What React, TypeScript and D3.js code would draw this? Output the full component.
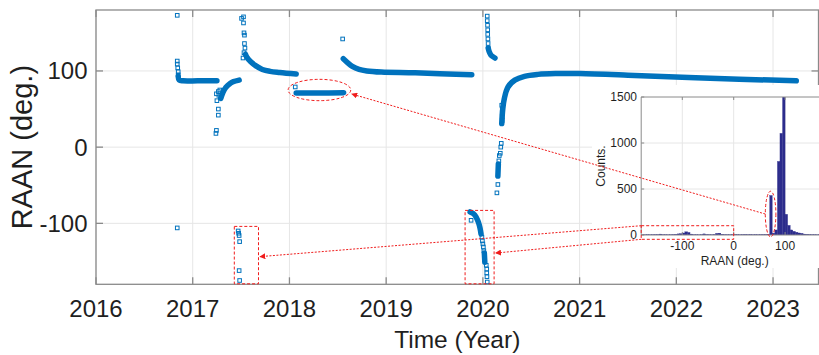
import React from 'react';
import * as d3 from 'd3';

type P = [number, number];

// ---- axis ticks ----
const xTicks = [2016, 2017, 2018, 2019, 2020, 2021, 2022, 2023];
const yTicks = [-100, 0, 100];
const insetXTicks = [-100, 0, 100];
const insetYTicks = [0, 500, 1000, 1500];

// ---- sparse RAAN samples (open squares) [year, deg] ----
const sparse2016: P[] = [[2016.84, 173], [2016.84, 113], [2016.84, 109], [2016.845, 104], [2016.85, 99], [2016.85, 95], [2016.84, -106]];
const sparse2017a: P[] = [[2017.24, 18], [2017.245, 22], [2017.265, 42], [2017.265, 50], [2017.25, 61], [2017.245, 70], [2017.265, 73], [2017.28, 75], [2017.27, 68], [2017.29, 66]];
const sparse2017b: P[] = [[2017.505, 169], [2017.525, 171], [2017.525, 163], [2017.53, 150], [2017.535, 147], [2017.535, 136], [2017.54, 130], [2017.52, 117], [2017.53, 124]];
const sparse2017c: P[] = [[2017.47, -110], [2017.475, -113], [2017.48, -116], [2017.485, -124], [2017.48, -162], [2017.485, -175]];
const sparse2018: P[] = [[2018.06, 79], [2018.55, 142]];
const sparse2020top: P[] = [[2020.045, 172], [2020.045, 166], [2020.048, 160], [2020.05, 154], [2020.05, 148], [2020.052, 142], [2020.054, 136], [2020.056, 130]];
const sparse2020mid: P[] = [[2020.2, 35], [2020.2, 40], [2020.2, 45], [2020.2, 50], [2020.195, 55], [2020.19, 5], [2020.185, 0], [2020.18, -8], [2020.17, -11], [2020.165, -18], [2020.155, -49], [2020.145, -60]];
const sparse2020low: P[] = [[2019.878, -96], [2019.99, -118], [2019.995, -123], [2020.0, -127], [2020.005, -131], [2020.01, -136], [2020.035, -155], [2020.04, -160], [2020.04, -165], [2020.042, -170], [2020.045, -177]];

// ---- dense RAAN tracks [year, deg] ----
const trackA: P[] = [[2016.85, 93], [2016.86, 88], [2016.9, 87], [2017.05, 87], [2017.25, 87]];
const trackB: P[] = [[2017.29, 64], [2017.31, 71], [2017.34, 78], [2017.38, 83], [2017.42, 86], [2017.48, 88]];
const trackC: P[] = [[2017.545, 122], [2017.56, 118], [2017.6, 112], [2017.65, 107], [2017.72, 102], [2017.8, 99.5], [2017.9, 98], [2018.07, 96]];
const trackD: P[] = [[2018.07, 71], [2018.3, 71], [2018.56, 71.5]];
const trackE: P[] = [[2018.557, 116], [2018.6, 111], [2018.65, 106], [2018.72, 102], [2018.8, 100], [2018.95, 98.5], [2019.3, 97.5], [2019.885, 95]];
const trackF: P[] = [[2020.055, 130], [2020.07, 124], [2020.09, 120], [2020.125, 117]];
const trackG: P[] = [[2020.195, 31], [2020.205, 49], [2020.222, 64], [2020.26, 79], [2020.33, 88], [2020.43, 93], [2020.57, 95.5], [2020.75, 96.5], [2021.0, 96.5], [2021.5, 94.5], [2022.2, 91], [2023.24, 87]];
const trackH: P[] = [[2020.16, -22], [2020.155, -38]];
const trackI: P[] = [[2019.868, -85], [2019.9, -87], [2019.935, -93], [2019.955, -99], [2019.97, -106], [2019.981, -114]];
const trackJ: P[] = [[2020.015, -139], [2020.02, -151]];

// ---- histogram (inset): bin lower edges (5 deg) and counts ----
const histBinStart = d3.range(-180, 180, 5);
const histCounts = [
  2, 2, 3, 2, 3, 4, 5, 10, 4, 3, 2, 3, 5, 8, 12, 15, 22, 35, 28, 10, 4, 3, 2, 4,
  12, 6, 4, 3, 6, 18, 20, 8, 4, 3, 3, 5, 6, 4, 3, 4, 6, 4, 5, 3, 4, 3, 4, 5,
  6, 8, 430, 20, 55, 800, 1105, 1600, 225, 105, 55, 40, 30, 22, 18, 10, 8, 5, 4, 3,
  2, 2, 2, 2,
];

const FONT = 'Liberation Sans, Arial, Helvetica, sans-serif';
const TXT = '#1f1f1f';
const BLUE = '#0072BD';
const RED = '#f01c1c';
const AXC = '#8a8a8a';
const GRID = '#e6e6e6';

export default function App() {
  const x = d3.scaleLinear().domain([2016, 2023.47]).range([96, 818.5]);
  const y = d3.scaleLinear().domain([-180, 180]).range([284.3, 10]);
  const ix = d3.scaleLinear().domain([-180, 180]).range([641.2, 826.2]);
  const iy = d3.scaleLinear().domain([0, 1500]).range([235, 97]);

  const [L, R] = x.range();
  const [B, T] = y.range();
  const iL = ix.range()[0];
  const iR = 819;
  const [iB, iT] = iy.range();

  const line = d3.line<P>().x(d => x(d[0])).y(d => y(d[1])).curve(d3.curveMonotoneY);
  const lineX = d3.line<P>().x(d => x(d[0])).y(d => y(d[1])).curve(d3.curveCatmullRom);
  const tracks = [trackA, trackB, trackC, trackD, trackE, trackF, trackG, trackH, trackI, trackJ];
  const sparse = [...sparse2016, ...sparse2017a, ...sparse2017b, ...sparse2017c, ...sparse2018, ...sparse2020top, ...sparse2020mid, ...sparse2020low];
  const sq = 3.6;

  // annotations (data units)
  const ell2018 = { cx: 2018.31, cy: 75, rx: 0.324, ry: 14 };
  const box2017 = { x0: 2017.43, x1: 2017.68, y0: -104, y1: -180 };
  const box2020 = { x0: 2019.816, x1: 2020.116, y0: -83, y1: -180 };
  const insetEll = { cx: 71.8, cy: 228, rx: 10.3, ry: 248 };
  const insetBox = { x0: -180, x1: 0, y0: 101, y1: -47 };

  const ellPx = { cx: x(ell2018.cx), cy: y(ell2018.cy), rx: x(ell2018.cx + ell2018.rx) - x(ell2018.cx), ry: y(ell2018.cy) - y(ell2018.cy + ell2018.ry) };
  const iEllPx = { cx: ix(insetEll.cx), cy: iy(insetEll.cy), rx: ix(insetEll.cx + insetEll.rx) - ix(insetEll.cx), ry: iy(insetEll.cy) - iy(insetEll.cy + insetEll.ry) };

  const arrows = [
    { x1: iEllPx.cx - iEllPx.rx, y1: iEllPx.cy, x2: ellPx.cx + ellPx.rx + 1, y2: ellPx.cy + 4 },
    { x1: ix(insetBox.x0), y1: iy(insetBox.y0), x2: x(box2017.x1) + 1.5, y2: y(-143.7) },
    { x1: ix(insetBox.x0), y1: iy(insetBox.y1), x2: x(box2020.x1) + 1.5, y2: y(-139) },
  ];

  return (
    <svg width={819} height={355} style={{ position: 'absolute', left: 0, top: 0, background: '#fff' }} fontFamily={FONT}>
      <defs>
        <marker id="arr" viewBox="0 0 10 10" refX="9" refY="5" markerWidth="6" markerHeight="6" orient="auto">
          <path d="M0,0 L10,5 L0,10 z" fill={RED} />
        </marker>
        <clipPath id="mainClip"><rect x={L} y={T} width={R - L} height={B - T} /></clipPath>
        <clipPath id="insetClip"><rect x={iL} y={iT} width={iR - iL} height={iB - iT} /></clipPath>
      </defs>
      <rect x={0} y={0} width={819} height={355} fill="#fff" />

      {/* main grid */}
      {xTicks.map(t => <line key={'gx' + t} x1={x(t)} x2={x(t)} y1={T} y2={B} stroke={GRID} strokeWidth={1} />)}
      {yTicks.map(t => <line key={'gy' + t} x1={L} x2={R} y1={y(t)} y2={y(t)} stroke={GRID} strokeWidth={1} />)}

      {/* main axes box + ticks */}
      <rect x={L} y={T} width={R - L} height={B - T} fill="none" stroke={AXC} strokeWidth={1.3} />
      {xTicks.map(t => (
        <g key={'tx' + t}>
          <line x1={x(t)} x2={x(t)} y1={B} y2={B - 7} stroke={AXC} strokeWidth={1.3} />
          <line x1={x(t)} x2={x(t)} y1={T} y2={T + 7} stroke={AXC} strokeWidth={1.3} />
          <text x={x(t)} y={317} textAnchor="middle" fontSize={24} fill={TXT}>{t}</text>
        </g>
      ))}
      {yTicks.map(t => (
        <g key={'ty' + t}>
          <line x1={L} x2={L + 7} y1={y(t)} y2={y(t)} stroke={AXC} strokeWidth={1.3} />
          <line x1={R} x2={R - 7} y1={y(t)} y2={y(t)} stroke={AXC} strokeWidth={1.3} />
          <text x={87.5} y={y(t)} dy="0.35em" textAnchor="end" fontSize={24} fill={TXT}>{t}</text>
        </g>
      ))}
      <text x={(L + R) / 2} y={348} textAnchor="middle" fontSize={24.5} fill={TXT}>Time (Year)</text>
      <text transform={`translate(32,${(T + B) / 2}) rotate(-90)`} textAnchor="middle" fontSize={29} fill={TXT}>RAAN (deg.)</text>

      {/* data */}
      <g clipPath="url(#mainClip)">
        {tracks.map((tr, i) => (
          <path key={'tr' + i} d={(i === 6 || i === 3 || i === 0 || i === 2 || i === 4 ? lineX : line)(tr) || ''} fill="none" stroke={BLUE} strokeWidth={5.5} strokeLinecap="round" strokeLinejoin="round" />
        ))}
        {sparse.map((p, i) => (
          <rect key={'s' + i} x={x(p[0]) - sq / 2} y={y(p[1]) - sq / 2} width={sq} height={sq} fill="none" stroke={BLUE} strokeWidth={1} />
        ))}
      </g>

      {/* main annotations */}
      <g fill="none" stroke={RED} strokeWidth={1} strokeDasharray="3,2">
        <ellipse cx={ellPx.cx} cy={ellPx.cy} rx={ellPx.rx} ry={ellPx.ry} />
        <rect x={x(box2017.x0)} y={y(box2017.y0)} width={x(box2017.x1) - x(box2017.x0)} height={y(box2017.y1) - y(box2017.y0) - 0.5} />
        <rect x={x(box2020.x0)} y={y(box2020.y0)} width={x(box2020.x1) - x(box2020.x0)} height={y(box2020.y1) - y(box2020.y0) - 0.5} />
      </g>

      {/* inset */}
      <rect x={592} y={85} width={230} height={183} fill="#fff" />
      {insetXTicks.map(t => <line key={'igx' + t} x1={ix(t)} x2={ix(t)} y1={iT} y2={iB} stroke={GRID} strokeWidth={1} />)}
      {insetYTicks.filter(t => t > 0 && t < 1500).map(t => <line key={'igy' + t} x1={iL} x2={iR} y1={iy(t)} y2={iy(t)} stroke={GRID} strokeWidth={1} />)}
      <g clipPath="url(#insetClip)">
        {histBinStart.map((b, i) => (
          <rect key={'h' + i} x={ix(b)} y={iy(histCounts[i])} width={ix(b + 5) - ix(b)} height={iB - iy(histCounts[i])} fill="#2c2c8c" stroke="#2c2c8c" strokeWidth={0.3} />
        ))}
      </g>
      <line x1={iL} x2={iR} y1={iB} y2={iB} stroke={AXC} strokeWidth={1} />
      <line x1={iL} x2={iR} y1={iT} y2={iT} stroke={AXC} strokeWidth={1} />
      <line x1={iL} x2={iL} y1={iT} y2={iB} stroke={AXC} strokeWidth={1} />
      {insetXTicks.map(t => (
        <g key={'itx' + t}>
          <line x1={ix(t)} x2={ix(t)} y1={iB} y2={iB - 3} stroke={AXC} />
          <line x1={ix(t)} x2={ix(t)} y1={iT} y2={iT + 3} stroke={AXC} />
          <text x={ix(t)} y={250} textAnchor="middle" fontSize={12} fill={TXT}>{t}</text>
        </g>
      ))}
      {insetYTicks.map(t => (
        <g key={'ity' + t}>
          <line x1={iL} x2={iL + 3} y1={iy(t)} y2={iy(t)} stroke={AXC} />
          <text x={637} y={iy(t)} dy="0.35em" textAnchor="end" fontSize={12} fill={TXT}>{t}</text>
        </g>
      ))}
      <text x={(ix(-180) + ix(180)) / 2 + 1} y={265} textAnchor="middle" fontSize={12} fill={TXT}>RAAN (deg.)</text>
      <text transform={`translate(605,${(iT + iB) / 2}) rotate(-90)`} textAnchor="middle" fontSize={12} fill={TXT}>Counts.</text>

      {/* inset annotations */}
      <g fill="none" stroke={RED} strokeWidth={1} strokeDasharray="3,2">
        <ellipse cx={iEllPx.cx} cy={iEllPx.cy} rx={iEllPx.rx} ry={iEllPx.ry} />
        <rect x={ix(insetBox.x0)} y={iy(insetBox.y0)} width={ix(insetBox.x1) - ix(insetBox.x0)} height={iy(insetBox.y1) - iy(insetBox.y0)} />
      </g>

      {/* arrows */}
      {arrows.map((a, i) => (
        <line key={'a' + i} x1={a.x1} y1={a.y1} x2={a.x2} y2={a.y2} stroke={RED} strokeWidth={1} strokeDasharray="2,1.5" markerEnd="url(#arr)" />
      ))}
    </svg>
  );
}
